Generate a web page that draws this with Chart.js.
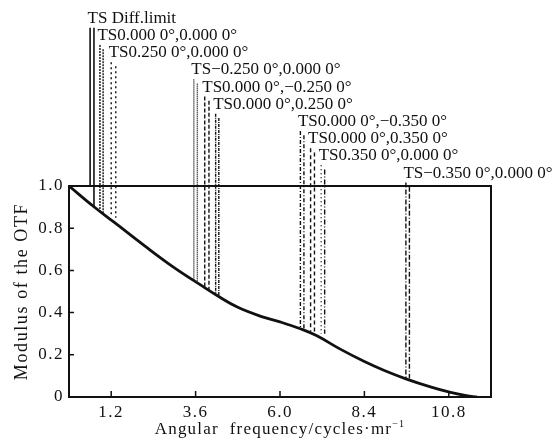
<!DOCTYPE html>
<html>
<head>
<meta charset="utf-8">
<script src="https://cdn.jsdelivr.net/npm/chart.js@4.4.1/dist/chart.umd.min.js"></script>
<style>
  html, body { margin: 0; padding: 0; background: #fff; }
</style>
</head>
<body>
<canvas id="otfChart" width="554" height="441"></canvas>
<script>
// MTF curve
const freq = [0, 0.7, 1.3, 2.2, 3.0, 3.75, 4.2, 4.8, 5.5, 6.0, 6.6, 7.05, 7.7, 8.4, 8.95, 9.6, 10.3, 10.85, 11.3, 11.6];
const mtf = [1.0, 0.903, 0.826, 0.710, 0.612, 0.530, 0.482, 0.425, 0.380, 0.356, 0.322, 0.290, 0.228, 0.168, 0.127, 0.085, 0.047, 0.022, 0.006, 0.0];

const xTicks = [1.2, 3.6, 6.0, 8.4, 10.8];
const yTicks = [0, 0.2, 0.4, 0.6, 0.8, 1.0];

// field markers: label, T / S line positions, where each line stops, where it starts (above the box)
const fieldLabels = [
  "TS Diff.limit",
  "TS0.000 0°,0.000 0°",
  "TS0.250 0°,0.000 0°",
  "TS\u22120.250 0°,0.000 0°",
  "TS0.000 0°,\u22120.250 0°",
  "TS0.000 0°,0.250 0°",
  "TS0.000 0°,\u22120.350 0°",
  "TS0.000 0°,0.350 0°",
  "TS0.350 0°,0.000 0°",
  "TS\u22120.350 0°,0.000 0°"
];
const lineXT = [0.60, 0.88, 1.20, 3.55, 3.86, 4.17, 6.58, 6.87, 7.17, 9.58];
const lineXS = [0.71, 0.97, 1.33, 3.65, 3.98, 4.26, 6.68, 6.98, 7.27, 9.68];
const lineEndT = [1.0, 0.875, 0.855, 0.555, 0.515, 0.483, 0.325, 0.31, 0.30, 0.09];
const lineEndS = [0.9, 0.865, 0.85, 0.55, 0.51, 0.478, 0.32, 0.305, 0.30, 0.088];
const lineTop = [1.75, 1.668, 1.587, 1.505, 1.424, 1.342, 1.261, 1.179, 1.098, 1.016];

const dashT = [[], [2, 1], [2, 3], [1, 1], [4, 2], [3, 1, 1, 1], [4, 2, 1, 2], [4, 3], [1, 3], [5, 2, 5, 2, 1, 2]];
const dashS = [[], [2, 1], [2, 3], [1, 1], [4, 2], [3, 1, 1, 1], [4, 2, 1, 2], [4, 3], [5, 2, 1, 2], [5, 2, 5, 2, 1, 2]];

const FONT = "'Liberation Serif', 'Times New Roman', serif";
const INK = "#111";

const datasets = [{
  label: "MTF",
  data: freq.map((x, i) => ({ x, y: mtf[i] })),
  borderColor: INK,
  borderWidth: 2.8,
  pointRadius: 0,
  tension: 0.4
}];

fieldLabels.forEach((name, i) => {
  datasets.push({
    label: name + " T",
    data: [{ x: lineXT[i], y: lineTop[i] }, { x: lineXT[i], y: lineEndT[i] }],
    borderColor: INK, borderWidth: i === 0 ? 1.6 : 1.4, borderDash: dashT[i],
    pointRadius: 0, clip: false
  });
  datasets.push({
    label: name + " S",
    data: [{ x: lineXS[i], y: lineTop[i] + (i === 0 ? 0 : -0.02) }, { x: lineXS[i], y: lineEndS[i] }],
    borderColor: INK, borderWidth: i === 0 ? 1.6 : 1.4, borderDash: dashS[i],
    pointRadius: 0, clip: false
  });
});

const framePlugin = {
  id: "frame",
  beforeDraw(chart) {
    const ctx = chart.ctx;
    ctx.fillStyle = "#fff";
    ctx.fillRect(0, 0, chart.width, chart.height);
    ctx.letterSpacing = "1.5px";
  },
  afterDraw(chart) {
    const ctx = chart.ctx;
    const { left, right, top, bottom } = chart.chartArea;
    const xs = chart.scales.x, ys = chart.scales.y;
    ctx.save();
    ctx.strokeStyle = INK;
    ctx.lineWidth = 2;
    ctx.strokeRect(left, top, right - left, bottom - top);

    // inward tick marks
    ctx.lineWidth = 1.5;
    ctx.beginPath();
    yTicks.forEach(v => {
      const y = ys.getPixelForValue(v);
      ctx.moveTo(left, y); ctx.lineTo(left + 5, y);
    });
    xTicks.forEach(v => {
      const x = xs.getPixelForValue(v);
      ctx.moveTo(x, bottom); ctx.lineTo(x, bottom - 6);
    });
    ctx.stroke();

    // field labels
    ctx.fillStyle = INK;
    ctx.letterSpacing = "0px";
    ctx.font = "17px " + FONT;
    ctx.textAlign = "left";
    ctx.textBaseline = "middle";
    fieldLabels.forEach((name, i) => {
      ctx.fillText(name, xs.getPixelForValue(lineXT[i]) - 2.5, ys.getPixelForValue(lineTop[i]) - 9.5);
    });

    // x axis title with superscript
    ctx.letterSpacing = "1.2px";
    ctx.font = "17px " + FONT;
    const main = "Angular  frequency/cycles\u00b7mr";
    const mainW = ctx.measureText(main).width;
    ctx.font = "10px " + FONT;
    const supW = ctx.measureText("\u22121").width;
    const x0 = (left + right) / 2 - (mainW + supW) / 2;
    ctx.font = "17px " + FONT;
    ctx.textAlign = "left";
    ctx.textBaseline = "middle";
    ctx.fillText(main, x0, 430);
    ctx.font = "10px " + FONT;
    ctx.fillText("\u22121", x0 + mainW, 424);

    // y axis title
    ctx.translate(22, (top + bottom) / 2);
    ctx.rotate(-Math.PI / 2);
    ctx.letterSpacing = "1.6px";
    ctx.font = "18px " + FONT;
    ctx.textAlign = "center";
    ctx.fillText("Modulus of the OTF", 0, 0);
    ctx.restore();
  }
};

new Chart(document.getElementById("otfChart"), {
  type: "line",
  data: { datasets },
  options: {
    responsive: false,
    animation: false,
    layout: { padding: { top: 186, right: 63, left: 0, bottom: 0 } },
    plugins: { legend: { display: false }, tooltip: { enabled: false } },
    scales: {
      x: {
        type: "linear", min: 0, max: 12,
        afterBuildTicks: s => { s.ticks = xTicks.map(v => ({ value: v })); },
        afterFit: s => { s.height = 44; },
        grid: { display: false, drawTicks: false },
        border: { display: false },
        ticks: {
          autoSkip: false, maxRotation: 0, padding: 5, color: INK,
          font: { family: FONT, size: 17 },
          callback: v => Number(v).toFixed(1)
        }
      },
      y: {
        min: 0, max: 1,
        afterBuildTicks: s => { s.ticks = yTicks.map(v => ({ value: v })); },
        afterFit: s => { s.width = 69; },
        grid: { display: false, drawTicks: false },
        border: { display: false },
        ticks: {
          padding: 5, color: INK,
          font: { family: FONT, size: 17 },
          callback: v => (v === 0 ? "0" : Number(v).toFixed(1))
        }
      }
    }
  },
  plugins: [framePlugin]
});
</script>
</body>
</html>
